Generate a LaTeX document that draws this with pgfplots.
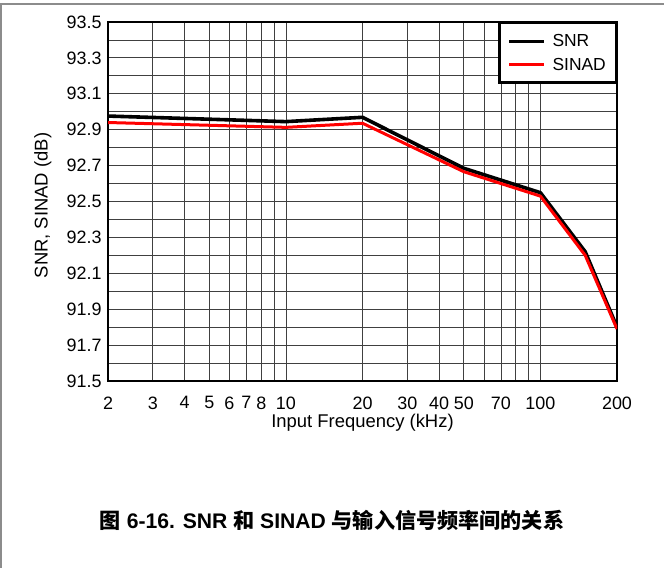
\documentclass[border=0pt]{standalone}
\usepackage{pgfplots}
\pgfplotsset{compat=1.18}
\usepackage{fontspec}
\setmainfont{Liberation Sans}
\newfontfamily\cjk{Noto Sans CJK SC}
\begin{document}
\begin{tikzpicture}
\useasboundingbox (0bp,0bp) rectangle (664bp,568bp);
% outer frame (top and left edges)
\draw[black!45, line width=1.2bp] (1bp,0bp) -- (1bp,564bp) -- (664bp,564bp);
\begin{axis}[
  at={(108bp,187bp)}, anchor=south west,
  scale only axis, width=509bp, height=359bp,
  xmode=log, xmin=2, xmax=200, ymin=91.5, ymax=93.5,
  xtick={2,3,4,5,6,7,8,9,10,20,30,40,50,60,70,80,90,100,200},
  xticklabels={2,3,4,5,6,7,8,,10,20,30,40,50,,70,,,100,200},
  ytick={91.5,91.6,91.7,91.8,91.9,92.0,92.1,92.2,92.3,92.4,92.5,92.6,92.7,92.8,92.9,93.0,93.1,93.2,93.3,93.4,93.5},
  yticklabels={91.5,,91.7,,91.9,,92.1,,92.3,,92.5,,92.7,,92.9,,93.1,,93.3,,93.5},
  major tick length=0pt,
  grid=major,
  major grid style={black!75, line width=0.8bp},
  axis line style={line width=2.6bp},
  tick label style={font=\fontsize{18}{18}\selectfont},
  xticklabel style={yshift=-12bp},
  yticklabel style={xshift=-3bp},
  xlabel={Input Frequency (kHz)},
  ylabel={SNR, SINAD (dB)},
  label style={font=\fontsize{18.5}{18.5}\selectfont},
  xlabel style={at={(axis description cs:0.5,0)}, anchor=base, yshift=-46bp},
  ylabel style={at={(axis description cs:-0.128,0.489)}, anchor=center},
  legend style={at={(rel axis cs:1,1)}, anchor=north east,
    draw=black, line width=2.4bp, font=\fontsize{17.5}{17.5}\selectfont,
    inner xsep=8bp, inner ysep=9bp, row sep=6bp, column sep=5bp},
  legend cell align=left,
  legend image code/.code={\draw[#1, line width=3bp] (0bp,0bp) -- (35bp,0bp);},
]
\addplot[black, line width=3.6bp, line join=round] coordinates {
  (2,92.976) (10,92.945) (20,92.969) (50,92.685) (100,92.549) (150,92.22) (200,91.80)};
\addlegendentry{SNR}
\addplot[red, line width=3bp, line join=round] coordinates {
  (2,92.940) (10,92.913) (20,92.936) (50,92.666) (100,92.530) (150,92.20) (200,91.79)};
\addlegendentry{SINAD}
\end{axis}
\node[font=\fontsize{21.2}{21.2}\selectfont\bfseries] at (332bp,48bp)
  {{\cjk 图} 6-16. SNR {\cjk 和} SINAD {\cjk 与输入信号频率间的关系}};
\end{tikzpicture}
\end{document}
